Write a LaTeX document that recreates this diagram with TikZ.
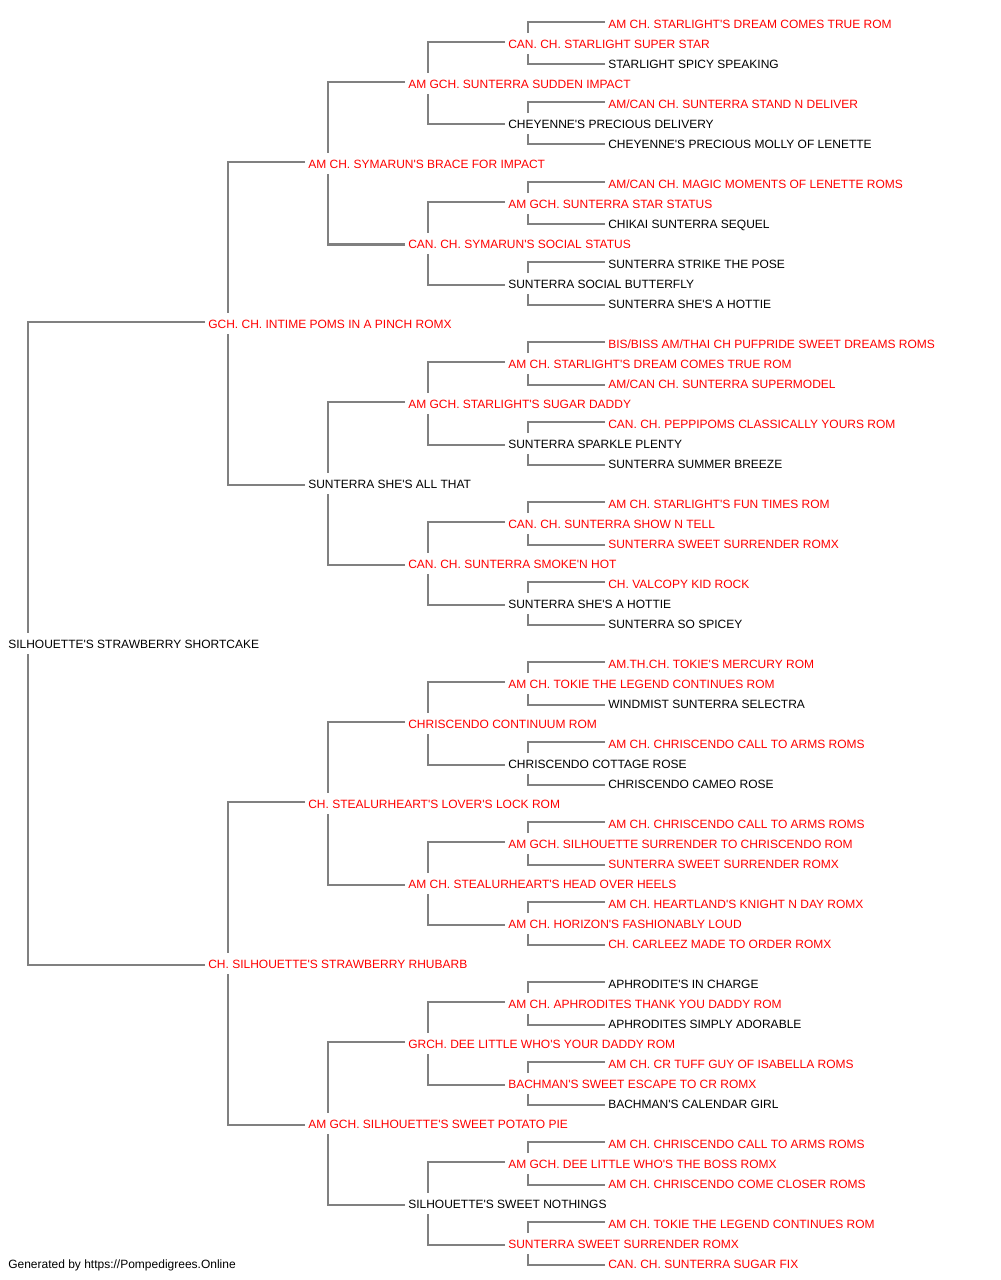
\documentclass[tikz,border=0pt]{standalone}
\usepackage{fontspec}
\setmainfont{Liberation Sans}[Ligatures=TeXOff]
\usetikzlibrary{calc}
\definecolor{tred}{HTML}{FF0000}
\definecolor{lgray}{HTML}{808080}
\tikzset{
  nm/.style={anchor=west, inner sep=0pt, text height=7.6pt, text depth=0pt, font=\fontsize{9pt}{10pt}\selectfont},
  rd/.style={nm, text=tred},
  bk/.style={nm, text=black},
  ln/.style={draw=lgray, line width=1.5pt}
}
\begin{document}
\begin{tikzpicture}[x=0.75pt,y=-0.75pt]
\useasboundingbox (0,0) rectangle (1000,1280);
\node[rd] (n0) at (608,23) {AM CH. STARLIGHT'S DREAM COMES TRUE ROM};
\node[rd] (n1) at (508,43) {CAN. CH. STARLIGHT SUPER STAR};
\node[bk] (n2) at (608,63) {STARLIGHT SPICY SPEAKING};
\node[rd] (n3) at (408,83) {AM GCH. SUNTERRA SUDDEN IMPACT};
\node[rd] (n4) at (608,103) {AM/CAN CH. SUNTERRA STAND N DELIVER};
\node[bk] (n5) at (508,123) {CHEYENNE'S PRECIOUS DELIVERY};
\node[bk] (n6) at (608,143) {CHEYENNE'S PRECIOUS MOLLY OF LENETTE};
\node[rd] (n7) at (308,163) {AM CH. SYMARUN'S BRACE FOR IMPACT};
\node[rd] (n8) at (608,183) {AM/CAN CH. MAGIC MOMENTS OF LENETTE ROMS};
\node[rd] (n9) at (508,203) {AM GCH. SUNTERRA STAR STATUS};
\node[bk] (n10) at (608,223) {CHIKAI SUNTERRA SEQUEL};
\node[rd] (n11) at (408,243) {CAN. CH. SYMARUN'S SOCIAL STATUS};
\node[bk] (n12) at (608,263) {SUNTERRA STRIKE THE POSE};
\node[bk] (n13) at (508,283) {SUNTERRA SOCIAL BUTTERFLY};
\node[bk] (n14) at (608,303) {SUNTERRA SHE'S A HOTTIE};
\node[rd] (n15) at (208,323) {GCH. CH. INTIME POMS IN A PINCH ROMX};
\node[rd] (n16) at (608,343) {BIS/BISS AM/THAI CH PUFPRIDE SWEET DREAMS ROMS};
\node[rd] (n17) at (508,363) {AM CH. STARLIGHT'S DREAM COMES TRUE ROM};
\node[rd] (n18) at (608,383) {AM/CAN CH. SUNTERRA SUPERMODEL};
\node[rd] (n19) at (408,403) {AM GCH. STARLIGHT'S SUGAR DADDY};
\node[rd] (n20) at (608,423) {CAN. CH. PEPPIPOMS CLASSICALLY YOURS ROM};
\node[bk] (n21) at (508,443) {SUNTERRA SPARKLE PLENTY};
\node[bk] (n22) at (608,463) {SUNTERRA SUMMER BREEZE};
\node[bk] (n23) at (308,483) {SUNTERRA SHE'S ALL THAT};
\node[rd] (n24) at (608,503) {AM CH. STARLIGHT'S FUN TIMES ROM};
\node[rd] (n25) at (508,523) {CAN. CH. SUNTERRA SHOW N TELL};
\node[rd] (n26) at (608,543) {SUNTERRA SWEET SURRENDER ROMX};
\node[rd] (n27) at (408,563) {CAN. CH. SUNTERRA SMOKE'N HOT};
\node[rd] (n28) at (608,583) {CH. VALCOPY KID ROCK};
\node[bk] (n29) at (508,603) {SUNTERRA SHE'S A HOTTIE};
\node[bk] (n30) at (608,623) {SUNTERRA SO SPICEY};
\node[bk] (n31) at (8,643) {SILHOUETTE'S STRAWBERRY SHORTCAKE};
\node[rd] (n32) at (608,663) {AM.TH.CH. TOKIE'S MERCURY ROM};
\node[rd] (n33) at (508,683) {AM CH. TOKIE THE LEGEND CONTINUES ROM};
\node[bk] (n34) at (608,703) {WINDMIST SUNTERRA SELECTRA};
\node[rd] (n35) at (408,723) {CHRISCENDO CONTINUUM ROM};
\node[rd] (n36) at (608,743) {AM CH. CHRISCENDO CALL TO ARMS ROMS};
\node[bk] (n37) at (508,763) {CHRISCENDO COTTAGE ROSE};
\node[bk] (n38) at (608,783) {CHRISCENDO CAMEO ROSE};
\node[rd] (n39) at (308,803) {CH. STEALURHEART'S LOVER'S LOCK ROM};
\node[rd] (n40) at (608,823) {AM CH. CHRISCENDO CALL TO ARMS ROMS};
\node[rd] (n41) at (508,843) {AM GCH. SILHOUETTE SURRENDER TO CHRISCENDO ROM};
\node[rd] (n42) at (608,863) {SUNTERRA SWEET SURRENDER ROMX};
\node[rd] (n43) at (408,883) {AM CH. STEALURHEART'S HEAD OVER HEELS};
\node[rd] (n44) at (608,903) {AM CH. HEARTLAND'S KNIGHT N DAY ROMX};
\node[rd] (n45) at (508,923) {AM CH. HORIZON'S FASHIONABLY LOUD};
\node[rd] (n46) at (608,943) {CH. CARLEEZ MADE TO ORDER ROMX};
\node[rd] (n47) at (208,963) {CH. SILHOUETTE'S STRAWBERRY RHUBARB};
\node[bk] (n48) at (608,983) {APHRODITE'S IN CHARGE};
\node[rd] (n49) at (508,1003) {AM CH. APHRODITES THANK YOU DADDY ROM};
\node[bk] (n50) at (608,1023) {APHRODITES SIMPLY ADORABLE};
\node[rd] (n51) at (408,1043) {GRCH. DEE LITTLE WHO'S YOUR DADDY ROM};
\node[rd] (n52) at (608,1063) {AM CH. CR TUFF GUY OF ISABELLA ROMS};
\node[rd] (n53) at (508,1083) {BACHMAN'S SWEET ESCAPE TO CR ROMX};
\node[bk] (n54) at (608,1103) {BACHMAN'S CALENDAR GIRL};
\node[rd] (n55) at (308,1123) {AM GCH. SILHOUETTE'S SWEET POTATO PIE};
\node[rd] (n56) at (608,1143) {AM CH. CHRISCENDO CALL TO ARMS ROMS};
\node[rd] (n57) at (508,1163) {AM GCH. DEE LITTLE WHO'S THE BOSS ROMX};
\node[rd] (n58) at (608,1183) {AM CH. CHRISCENDO COME CLOSER ROMS};
\node[bk] (n59) at (408,1203) {SILHOUETTE'S SWEET NOTHINGS};
\node[rd] (n60) at (608,1223) {AM CH. TOKIE THE LEGEND CONTINUES ROM};
\node[rd] (n61) at (508,1243) {SUNTERRA SWEET SURRENDER ROMX};
\node[rd] (n62) at (608,1263) {CAN. CH. SUNTERRA SUGAR FIX};
\node[bk] (foot) at (8,1263) {Generated by https://Pompedigrees.Online};
\foreach \p/\d in {31/16, 15/8, 47/8, 7/4, 23/4, 39/4, 55/4,
  3/2, 11/2, 19/2, 27/2, 35/2, 43/2, 51/2, 59/2,
  1/1, 5/1, 9/1, 13/1, 17/1, 21/1, 25/1, 29/1, 33/1, 37/1, 41/1, 45/1, 49/1, 53/1, 57/1, 61/1} {
  \pgfmathtruncatemacro{\a}{\p-\d}
  \pgfmathtruncatemacro{\b}{\p+\d}
  \draw[ln] ($(n\a.west)+(-3,-1.3)$) -| ($(n\p.west)+(20,-10)$);
  \draw[ln] ($(n\b.west)+(-3,1.5)$) -| ($(n\p.west)+(20,11)$);
}
\end{tikzpicture}
\end{document}
